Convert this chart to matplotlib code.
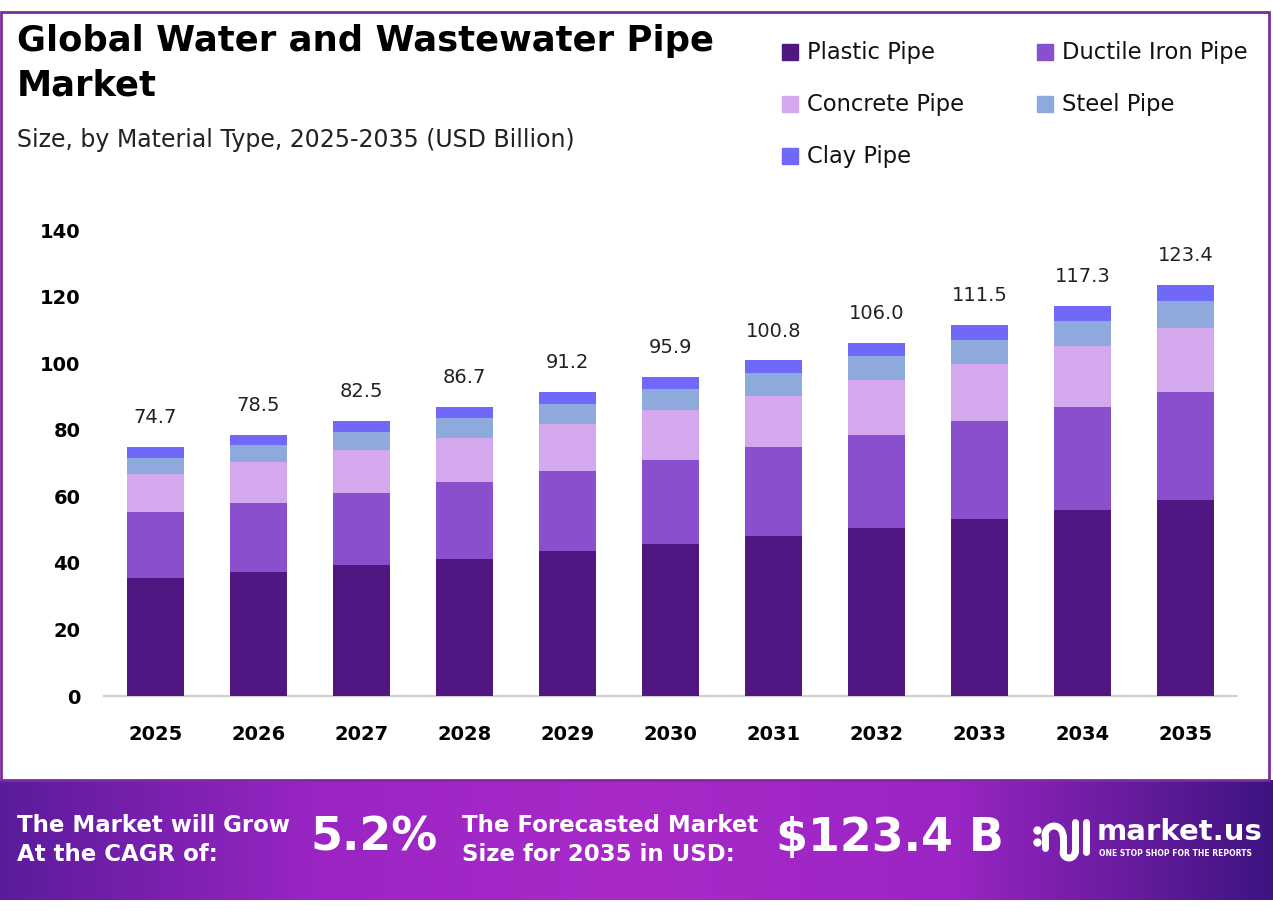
import numpy as np
import matplotlib
matplotlib.use("Agg")
import matplotlib.pyplot as plt
from matplotlib.patches import Rectangle
from matplotlib.colors import LinearSegmentedColormap

years = ["2025", "2026", "2027", "2028", "2029", "2030", "2031", "2032", "2033", "2034", "2035"]
totals = [74.7, 78.5, 82.5, 86.7, 91.2, 95.9, 100.8, 106.0, 111.5, 117.3, 123.4]
plastic = [35.4, 37.2, 39.4, 41.2, 43.6, 45.7, 48.1, 50.5, 53.2, 55.9, 58.9]
ductile = [19.9, 20.8, 21.6, 23.1, 24.0, 25.2, 26.7, 27.9, 29.4, 30.9, 32.4]
concrete = [11.4, 12.3, 12.9, 13.2, 14.1, 15.0, 15.3, 16.5, 17.1, 18.3, 19.2]
steel = [4.8, 5.1, 5.4, 6.0, 6.0, 6.3, 6.9, 7.2, 7.2, 7.5, 8.2]
clay = [3.2, 3.1, 3.2, 3.2, 3.5, 3.7, 3.8, 3.9, 4.6, 4.7, 4.7]

series = [
    ("Plastic Pipe", plastic, "#501782"),
    ("Ductile Iron Pipe", ductile, "#8a4fcc"),
    ("Concrete Pipe", concrete, "#d3a8ec"),
    ("Steel Pipe", steel, "#8eaadc"),
    ("Clay Pipe", clay, "#7068f8"),
]

plt.rcParams["font.family"] = ["DejaVu Sans"]

W, H = 1273, 911
fig = plt.figure(figsize=(W / 100, H / 100), dpi=100)

# outer frame
fig.patches.append(Rectangle((1 / W, (H - 780) / H), 1268 / W, 768 / H, transform=fig.transFigure,
                             fill=False, edgecolor="#7b2d9b", linewidth=2))

# bottom banner gradient
bax = fig.add_axes([0, (H - 900) / H, 1, 120 / H])
cmap = LinearSegmentedColormap.from_list("band", ["#5a1c9c", "#9a25c4", "#a82ac8", "#9a25c4", "#3e1480"])
bax.imshow(np.linspace(0, 1, 256)[None, :], aspect="auto", cmap=cmap, extent=[0, 1, 0, 1])
bax.set_xlim(0, 1)
bax.set_ylim(0, 1)
bax.axis("off")

# chart
ax = fig.add_axes([104 / W, (H - 696) / H, 1133 / W, 466 / H])
x = np.arange(len(years))
bottom = np.zeros(len(years))
for name, vals, color in series:
    ax.bar(x, vals, width=0.56, bottom=bottom, color=color, label=name, zorder=3)
    bottom += np.array(vals)

for xi, t in zip(x, totals):
    ax.text(xi, t + 6, f"{t:.1f}", ha="center", va="bottom", fontsize=14, color="#222222")

ax.set_xlim(-0.5, 10.5)
ax.set_ylim(0, 140)
ax.set_yticks(range(0, 141, 20))
ax.set_xticks(x)
ax.set_xticklabels(years)
ax.tick_params(axis="both", length=0, labelsize=14)
ax.tick_params(axis="y", pad=17)
ax.tick_params(axis="x", pad=21)
for lbl in ax.get_xticklabels() + ax.get_yticklabels():
    lbl.set_fontweight("bold")
for s in ["top", "right", "left"]:
    ax.spines[s].set_visible(False)
ax.spines["bottom"].set_color("#d0d0d0")
ax.spines["bottom"].set_linewidth(1.5)

# titles
fig.text(17 / W, 1 - 24 / H, "Global Water and Wastewater Pipe\nMarket", fontsize=25.5, fontweight="bold",
         va="top", ha="left", linespacing=1.4)
fig.text(17 / W, 1 - 140 / H, "Size, by Material Type, 2025-2035 (USD Billion)", fontsize=17,
         va="center", ha="left", color="#222222")

# legend
leg_pos = [(782, 52), (1037, 52), (782, 104), (1037, 104), (782, 156)]
for (name, vals, color), (lx, ly) in zip(series, leg_pos):
    fig.patches.append(Rectangle((lx / W, 1 - (ly + 8) / H), 16 / W, 16 / H,
                                 transform=fig.transFigure, color=color))
    fig.text((lx + 25) / W, 1 - ly / H, name, fontsize=16.3, va="center", ha="left", color="#111111")

# banner texts
fig.text(17 / W, 1 - 840 / H, "The Market will Grow\nAt the CAGR of:", fontsize=16.5, fontweight="bold",
         color="white", va="center", ha="left", linespacing=1.35)
fig.text(310 / W, 1 - 838 / H, "5.2%", fontsize=33, fontweight="bold", color="white", va="center", ha="left")
fig.text(462 / W, 1 - 840 / H, "The Forecasted Market\nSize for 2035 in USD:", fontsize=16.5, fontweight="bold",
         color="white", va="center", ha="left", linespacing=1.35)
fig.text(776 / W, 1 - 838 / H, "$123.4 B", fontsize=33, fontweight="bold", color="white", va="center", ha="left")

# logo icon (pixel coordinates overlay)
lax = fig.add_axes([0, 0, 1, 1])
lax.set_xlim(0, W)
lax.set_ylim(H, 0)
lax.axis("off")
lax.plot([1037, 1037], [830, 842], color="white", lw=0, marker="o", ms=5)
t = np.linspace(np.pi, 0, 30)
lax.plot(1054 + 9 * np.cos(t), 836 - 10 * np.sin(t), color="white", lw=5, solid_capstyle="round")
lax.plot([1045, 1045], [836, 848], color="white", lw=5, solid_capstyle="round")
lax.plot([1063, 1063], [836, 852], color="white", lw=5, solid_capstyle="round")
t2 = np.linspace(np.pi, 2 * np.pi, 20)
lax.plot(1069 + 6 * np.cos(t2), 852 - 6 * np.sin(t2), color="white", lw=5, solid_capstyle="round")
lax.plot([1075, 1075], [852, 822], color="white", lw=5, solid_capstyle="round")
lax.plot([1086, 1086], [822, 852], color="white", lw=5, solid_capstyle="round")

fig.text(1097 / W, 1 - 832 / H, "market.us", fontsize=21, fontweight="bold", color="white", va="center", ha="left")
fig.text(1099 / W, 1 - 854 / H, "ONE STOP SHOP FOR THE REPORTS", fontsize=5.5, fontweight="bold",
         color="white", va="center", ha="left")

fig.savefig("out.png", dpi=100, facecolor="white")
